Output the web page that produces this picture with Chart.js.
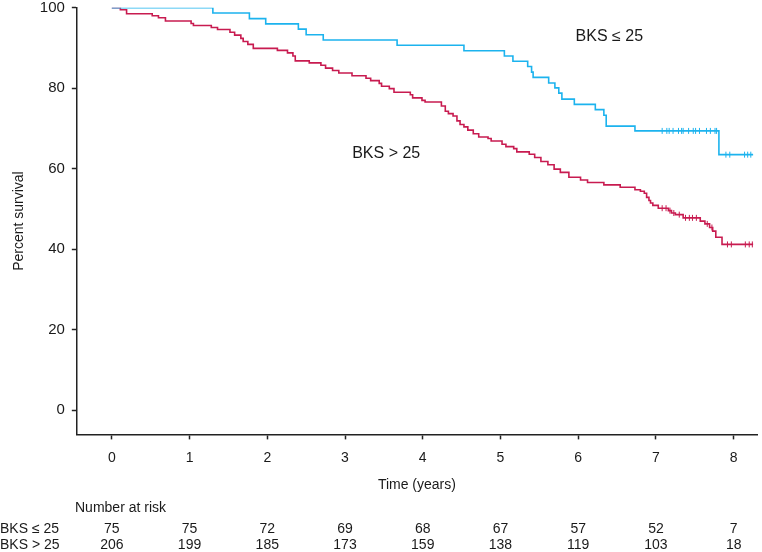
<!DOCTYPE html>
<html>
<head>
<meta charset="utf-8">
<script src="https://cdn.jsdelivr.net/npm/chart.js@4.4.1/dist/chart.umd.min.js"></script>
<style>
  html, body { margin: 0; padding: 0; background: #fff; }
  #wrap { width: 762px; height: 552px; }
</style>
</head>
<body>
<div id="wrap"><canvas id="km"></canvas></div>
<script>
// curva BKS <= 25 (azul)
const lowTimes = [0, 1.30, 1.77, 1.98, 2.40, 2.50, 2.72, 3.67, 4.53, 5.05, 5.16, 5.35, 5.40, 5.42, 5.62, 5.70, 5.75, 5.79, 5.95, 6.22, 6.33, 6.36, 6.73, 7.81, 8.25]
const lowSurv  = [100, 98.7, 97.3, 96.0, 94.7, 93.3, 92.0, 90.7, 89.3, 88.0, 86.7, 85.4, 84.0, 82.7, 81.3, 80.1, 78.8, 77.3, 76.0, 74.7, 73.3, 70.6, 69.4, 63.5, 63.5]
const lowCensor = [7.08, 7.14, 7.17, 7.22, 7.29, 7.33, 7.35, 7.42, 7.48, 7.51, 7.56, 7.65, 7.70, 7.76, 7.78, 7.90, 7.95, 8.14, 8.18, 8.22]

// curva BKS > 25 (roja)
const highTimes = [0, 0.11, 0.19, 0.52, 0.60, 0.69, 1.02, 1.05, 1.28, 1.36, 1.52, 1.58, 1.66, 1.69, 1.75, 1.82,
  2.13, 2.26, 2.33, 2.36, 2.54, 2.69, 2.75, 2.84, 2.92, 3.09, 3.27, 3.33, 3.44, 3.47, 3.57, 3.63, 3.84, 3.87, 3.99,
  4.03, 4.24, 4.29, 4.33, 4.39, 4.44, 4.48, 4.53, 4.58, 4.65, 4.72, 4.84, 4.88, 5.02, 5.07, 5.17, 5.21, 5.37, 5.44,
  5.52, 5.61, 5.69, 5.77, 5.88, 6.03, 6.12, 6.33, 6.54, 6.73, 6.80, 6.85, 6.88, 6.91, 6.93, 6.96, 7.03, 7.16, 7.20,
  7.25, 7.35, 7.57, 7.63, 7.69, 7.73, 7.77, 7.85, 8.25]
const highSurv = [100, 99.5, 98.5, 98.0, 97.5, 96.7, 96.1, 95.6, 95.1, 94.6, 93.9, 93.2, 92.4, 91.6, 90.9, 89.9,
  89.4, 88.8, 88.0, 86.8, 86.3, 85.7, 85.0, 84.4, 83.8, 83.1, 82.5, 81.9, 81.2, 80.5, 79.9, 79.0, 78.4, 77.6, 77.0,
  76.6, 75.6, 74.3, 73.7, 73.1, 71.9, 71.0, 70.4, 69.6, 68.7, 67.9, 67.5, 66.9, 66.1, 65.5, 65.0, 64.2, 63.6, 62.8,
  61.8, 61.0, 59.9, 59.1, 57.9, 57.2, 56.6, 56.0, 55.4, 54.8, 54.4, 53.9, 52.9, 52.1, 51.5, 50.9, 50.2, 49.6, 49.0,
  48.6, 47.8, 47.0, 46.3, 45.4, 44.5, 43.0, 41.2, 41.2]
const highCensor = [7.08, 7.13, 7.18, 7.23, 7.30, 7.38, 7.43, 7.47, 7.52, 7.66, 7.72, 7.92, 7.97, 8.15, 8.20, 8.24]

// tabla de riesgo
const riskTicks = [0, 1, 2, 3, 4, 5, 6, 7, 8]
const riskLow  = [75, 75, 72, 69, 68, 67, 57, 52, 7]
const riskHigh = [206, 199, 185, 173, 159, 138, 119, 103, 18]
const groupNames = ["BKS ≤ 25", "BKS > 25"]

const yTicks = [0, 20, 40, 60, 80, 100]

const azul = '#1cb3ee'
const rojo = '#c81b50'
const fuente = '"Liberation Sans", Arial, sans-serif'

function puntos(ts, vs) {
    let arr = []
    for (let i = 0; i < ts.length; i++) arr.push({ x: ts[i], y: vs[i] })
    return arr
}

// valor de la curva en el tiempo t (para colocar las marcas de censura)
function survAt(ts, vs, t) {
    let v = vs[0]
    for (let i = 0; i < ts.length; i++) {
        if (ts[i] <= t) v = vs[i]
    }
    return v
}

function censuras(times, ts, vs) {
    return times.map(t => ({ x: t, y: survAt(ts, vs, t) }))
}

const textos = {
    id: 'textos',
    afterDraw(chart) {
        const c = chart.ctx
        const xs = chart.scales.x
        const ys = chart.scales.y
        c.save()
        c.fillStyle = '#1a1a1a'
        c.textBaseline = 'middle'
        c.textAlign = 'center'
        // etiquetas de las curvas
        c.font = '16px ' + fuente
        c.fillText(groupNames[0], xs.getPixelForValue(6.40), ys.getPixelForValue(92.8))
        c.fillText(groupNames[1], xs.getPixelForValue(3.53), ys.getPixelForValue(63.7))

        // number at risk
        c.font = '14px ' + fuente
        c.textAlign = 'left'
        c.fillText('Number at risk', 75, 508)
        c.fillText(groupNames[0], 0, 529)
        c.fillText(groupNames[1], 0, 545)
        c.textAlign = 'center'
        riskTicks.forEach((t, i) => {
            const px = xs.getPixelForValue(t)
            c.fillText(String(riskLow[i]), px, 529)
            c.fillText(String(riskHigh[i]), px, 545)
        })
        c.restore()
    }
}

const ctx = document.getElementById('km').getContext('2d')
const myChart = new Chart(ctx, {
    type: 'scatter',
    data: {
        datasets: [
            {
                label: groupNames[0],
                data: puntos(lowTimes, lowSurv),
                showLine: true,
                stepped: true,
                borderColor: azul,
                borderWidth: 1.6,
                pointRadius: 0,
                fill: false
            },
            {
                label: groupNames[1],
                data: puntos(highTimes, highSurv),
                showLine: true,
                stepped: true,
                borderColor: rojo,
                borderWidth: 1.6,
                pointRadius: 0,
                fill: false
            },
            {
                label: 'censura1',
                data: censuras(lowCensor, lowTimes, lowSurv),
                showLine: false,
                pointStyle: 'line',
                rotation: 90,
                pointRadius: 3,
                borderColor: azul,
                borderWidth: 1
            },
            {
                label: 'censura2',
                data: censuras(highCensor, highTimes, highSurv),
                showLine: false,
                pointStyle: 'line',
                rotation: 90,
                pointRadius: 3,
                borderColor: rojo,
                borderWidth: 1
            }
        ]
    },
    options: {
        responsive: true,
        maintainAspectRatio: false,
        animation: false,
        layout: { padding: { left: 0, right: 2, top: 0, bottom: 58 } },
        plugins: {
            legend: { display: false },
            tooltip: { enabled: false }
        },
        scales: {
            x: {
                type: 'linear',
                min: -0.45,
                max: 8.3,
                afterBuildTicks: (axis) => { axis.ticks = riskTicks.map(v => ({ value: v })) },
                grid: { display: true, drawOnChartArea: false, drawTicks: true, tickLength: 5, tickColor: '#222', tickWidth: 1.5 },
                border: { color: '#222', width: 1.5 },
                ticks: { color: '#1a1a1a', font: { family: fuente, size: 14 }, padding: 10 },
                title: { display: true, text: 'Time (years)', color: '#1a1a1a', font: { family: fuente, size: 14 }, padding: { top: 1, bottom: 0 } }
            },
            y: {
                min: -6,
                max: 100,
                afterBuildTicks: (axis) => { axis.ticks = yTicks.map(v => ({ value: v })) },
                grid: { display: true, drawOnChartArea: false, drawTicks: true, tickLength: 5, tickColor: '#222', tickWidth: 1.5 },
                border: { color: '#222', width: 1.5 },
                ticks: { color: '#1a1a1a', font: { family: fuente, size: 15, lineHeight: 0.1 }, padding: 7 },
                title: { display: true, text: 'Percent survival', color: '#1a1a1a', font: { family: fuente, size: 14 }, padding: { top: 11, bottom: 5 } }
            }
        }
    },
    plugins: [textos]
})
</script>
</body>
</html>
